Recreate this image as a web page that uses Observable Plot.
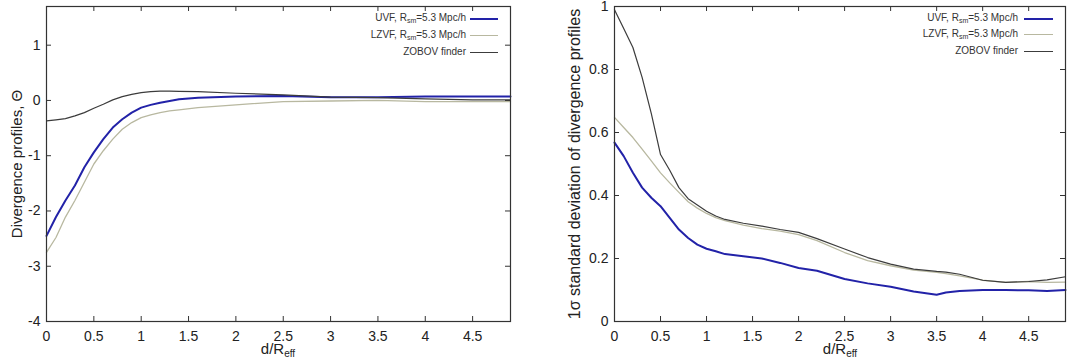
<!DOCTYPE html>
<html><head><meta charset="utf-8">
<script src="https://cdn.jsdelivr.net/npm/d3@7"></script>
<script src="https://cdn.jsdelivr.net/npm/@observablehq/plot@0.6"></script>
<style>
body{margin:0;background:#fff;font-family:"Liberation Sans",Arial,sans-serif;}
#wrap{position:relative;width:1069px;height:361px;overflow:hidden;}
.panel{position:absolute;top:0;}
.leg{position:absolute;font-size:10px;color:#333;white-space:nowrap;text-align:right;line-height:12px;}
.leg sub{font-size:7px;vertical-align:-2px;}
.sw{position:absolute;height:0;}
.xl{position:absolute;font-size:15px;color:#222;transform:translateX(-50%);white-space:nowrap;line-height:16px;}
.xl sub{font-size:10px;vertical-align:-3px;line-height:0;}
</style></head>
<body><div id="wrap"></div>
<script>
// ---- data ----
const xDiv = [0,0.1,0.2,0.3,0.4,0.5,0.6,0.7,0.8,0.9,1.0,1.1,1.2,1.3,1.4,1.6,2.0,2.5,3.0,3.5,4.0,4.5,4.9];
const divUVF   = [-2.45,-2.11,-1.81,-1.54,-1.21,-0.94,-0.70,-0.49,-0.34,-0.22,-0.13,-0.08,-0.04,-0.01,0.02,0.05,0.07,0.08,0.06,0.06,0.07,0.07,0.07];
const divLZVF  = [-2.75,-2.48,-2.11,-1.81,-1.48,-1.15,-0.91,-0.70,-0.52,-0.40,-0.31,-0.26,-0.22,-0.19,-0.17,-0.13,-0.08,-0.02,-0.01,0.00,-0.02,-0.02,-0.02];
const divZOBOV = [-0.37,-0.35,-0.33,-0.28,-0.22,-0.14,-0.07,0.01,0.07,0.11,0.14,0.16,0.17,0.17,0.165,0.16,0.13,0.10,0.06,0.05,0.03,0.01,0.01];

const xStd = [0,0.1,0.2,0.3,0.4,0.5,0.6,0.7,0.8,0.9,1.0,1.1,1.2,1.4,1.6,1.8,2.0,2.2,2.5,2.75,3.0,3.25,3.5,3.6,3.75,4.0,4.25,4.5,4.7,4.9];
const stdUVF   = [0.568,0.525,0.472,0.425,0.393,0.366,0.329,0.292,0.265,0.244,0.231,0.223,0.214,0.207,0.200,0.186,0.170,0.161,0.135,0.121,0.110,0.095,0.085,0.092,0.097,0.100,0.100,0.099,0.097,0.100];
const stdLZVF  = [0.648,0.616,0.584,0.547,0.510,0.472,0.440,0.410,0.380,0.360,0.343,0.330,0.320,0.306,0.295,0.287,0.276,0.257,0.219,0.193,0.177,0.163,0.156,0.152,0.145,0.131,0.124,0.127,0.124,0.125];
const stdZOBOV = [0.99,0.93,0.87,0.775,0.66,0.53,0.48,0.425,0.39,0.37,0.35,0.335,0.324,0.312,0.303,0.292,0.283,0.263,0.230,0.203,0.182,0.166,0.159,0.157,0.150,0.131,0.124,0.127,0.132,0.142];

const xTicks = [0,0.5,1,1.5,2,2.5,3,3.5,4,4.5];
const yTicksDiv = [-4,-3,-2,-1,0,1];
const yTicksStd = [0,0.2,0.4,0.6,0.8,1];

const seriesNames = ["UVF","LZVF","ZOBOV finder"];
const colors = ["#2222a8","#b8b8a0","#3c3c3c"];
const widths = [2,1.3,1.2];

function rows(xs, ys){ return xs.map((x,i)=>({x, y: ys[i]})); }

function panel({width, ml, mr, yDomain, yTicks, series, xs, ylabel, ylabelDx, ylabelSize}){
  const height = 361, mt = 6, mb = 40;
  const iw = width - ml - mr, ih = height - mt - mb, tl = 5;
  const marks = [];
  series.forEach((ys,i)=>{
    marks.push(Plot.line(rows(xs, ys), {x:"x", y:"y", stroke: colors[i], strokeWidth: widths[i]}));
  });
  marks.push(
    Plot.tickX(xTicks, {x: d=>d, stroke:"#333", insetTop: ih - tl}),
    Plot.tickX(xTicks, {x: d=>d, stroke:"#333", insetBottom: ih - tl}),
    Plot.tickY(yTicks, {y: d=>d, stroke:"#333", insetRight: iw - tl}),
    Plot.tickY(yTicks, {y: d=>d, stroke:"#333", insetLeft: iw - tl}),
    Plot.axisX(xTicks, {anchor:"bottom", tickSize:0, tickPadding:10, label:null, fontSize:14, fill:"#222", tickFormat: d=>String(d)}),
    Plot.axisY(yTicks, {anchor:"left", tickSize:0, tickPadding:6, label:null, fontSize:14, fill:"#222", tickFormat: d=>String(d)}),
    Plot.frame({stroke:"#333", strokeWidth:1.2}),
    Plot.text([ylabel], {frameAnchor:"left", text: d=>d, rotate:-90, dx: ylabelDx, fontSize:ylabelSize, fill:"#222", textAnchor:"middle"})
  );
  return Plot.plot({
    width, height, marginLeft: ml, marginRight: mr, marginTop: mt, marginBottom: mb,
    style:{fontFamily:"Liberation Sans, Arial, sans-serif", background:"#fff", overflow:"visible"},
    x:{domain:[0,4.9]}, y:{domain:yDomain},
    marks
  });
}

const wrap = document.getElementById("wrap");
function addPanel(left, w, el){
  const d = document.createElement("div"); d.className="panel"; d.style.left=left+"px"; d.style.width=w+"px";
  d.appendChild(el); wrap.appendChild(d);
}
addPanel(0, 535, panel({width:535, ml:46, mr:25, yDomain:[-4,1.7], yTicks:yTicksDiv,
  series:[divUVF,divLZVF,divZOBOV], xs:xDiv, ylabel:"Divergence profiles, Θ", ylabelDx:-29, ylabelSize:15}));
addPanel(535, 534, panel({width:534, ml:79, mr:4, yDomain:[0,1], yTicks:yTicksStd,
  series:[stdUVF,stdLZVF,stdZOBOV], xs:xStd, ylabel:"1σ standard deviation of divergence profiles", ylabelDx:-40, ylabelSize:16}));

// legends
const legendText = [
  'UVF, R<sub>sm</sub>=5.3 Mpc/h',
  'LZVF, R<sub>sm</sub>=5.3 Mpc/h',
  'ZOBOV finder'
];
function legend(textRight, lineX1, lineX2, ys){
  ys.forEach((y,i)=>{
    const t = document.createElement("div"); t.className="leg";
    t.innerHTML = legendText[i];
    t.style.right = (1069 - textRight)+"px"; t.style.top = (y-7)+"px";
    wrap.appendChild(t);
    const s = document.createElement("div"); s.className="sw";
    s.style.left = lineX1+"px"; s.style.width=(lineX2-lineX1)+"px";
    s.style.top = (y - widths[i]/2)+"px";
    s.style.borderTop = widths[i]+"px solid "+colors[i];
    wrap.appendChild(s);
  });
}
legend(466, 470, 498, [18.5, 35.5, 52.5]);
legend(1018, 1024, 1053, [18.5, 35, 51.5]);

// x labels
[[278],[840]].forEach(([cx])=>{
  const l = document.createElement("div"); l.className="xl";
  l.innerHTML = 'd/R<sub>eff</sub>';
  l.style.left = cx+"px"; l.style.top = "341px";
  wrap.appendChild(l);
});
</script>
</body></html>
